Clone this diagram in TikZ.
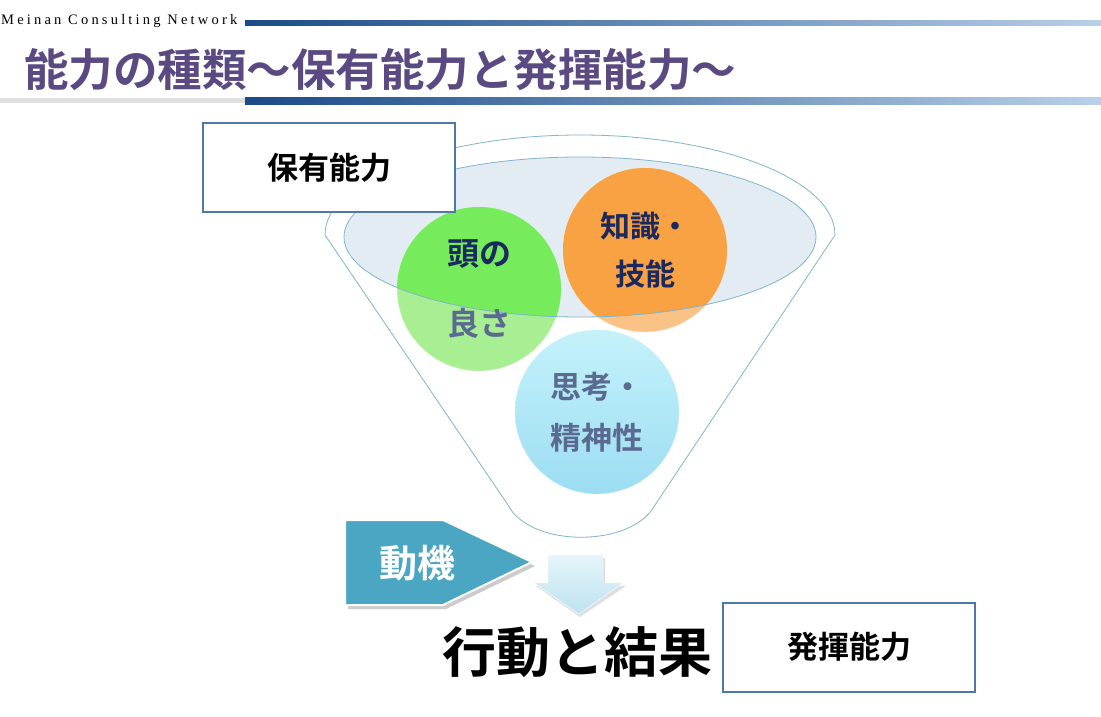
\documentclass[tikz,border=0pt]{standalone}
\usepackage{fontspec}
\usepackage{xcolor}
\usetikzlibrary{shapes.geometric, arrows, positioning}
\newfontfamily\jp{Noto Sans CJK JP}[BoldFont={Noto Sans CJK JP Bold}]
\newfontfamily\brandfont{Liberation Serif}[LetterSpace=22]

\definecolor{titlepurple}{HTML}{5B4A82}
\definecolor{barblue}{HTML}{1B4A88}
\definecolor{barlight}{HTML}{B8D0E8}
\definecolor{boxedge}{HTML}{4F78A8}
\definecolor{funnelline}{HTML}{7FB5CC}
\definecolor{bowlfill}{HTML}{E2ECF2}
\definecolor{navytext}{HTML}{1A2A5E}
\definecolor{slatetext}{HTML}{5A6A90}
\definecolor{motiveblue}{HTML}{4AA6C2}
\definecolor{greenin}{HTML}{76EC5C}
\definecolor{greenout}{HTML}{A8EE92}
\definecolor{orangein}{HTML}{F8A243}
\definecolor{orangeout}{HTML}{FBC285}
\definecolor{cyantop}{HTML}{C4F2FA}
\definecolor{cyanbot}{HTML}{9CDDF2}
\definecolor{arrowtop}{HTML}{E6F5FA}
\definecolor{arrowbot}{HTML}{BCE2F0}

\begin{document}
\begin{tikzpicture}[x=1pt, y=-1pt]
        % Styles
        \tikzstyle{capbox} = [rectangle, draw=boxedge, line width=2pt, fill=white, minimum width=252pt, minimum height=89pt, inner sep=0pt, font=\jp\bfseries\fontsize{31}{31}\selectfont]
        \tikzstyle{ability} = [circle, minimum size=164pt, inner sep=0pt]
        \tikzstyle{abilitytext} = [align=center, inner sep=0pt, font=\jp\bfseries\fontsize{31}{50}\selectfont]
        \tikzstyle{bar} = [left color=barblue, right color=barlight]

        \useasboundingbox (0,0) rectangle (1101,717);
        \fill[white] (0,0) rectangle (1101,717);

        % Header
        \node[anchor=west, inner sep=0pt, font=\brandfont\fontsize{14.5}{14.5}\selectfont] (brand) at (1,21) {Meinan Consulting Network};
        \shade[bar] (245,21) rectangle (1101,26);
        \node[anchor=west, inner sep=0pt, text=titlepurple, font=\jp\bfseries\fontsize{44.5}{44.5}\selectfont] (title) at (24,70) {能力の種類〜保有能力と発揮能力〜};
        \fill[gray!25] (0,98) rectangle (245,103);
        \shade[bar] (245,98) rectangle (1101,104);

        % Funnel
        \draw[funnelline, line width=0.8pt] (835,235) arc[start angle=0, end angle=-180, x radius=255, y radius=100]
            -- (508,505) .. controls (530,548) and (632,548) .. (655,505) -- cycle;
        \fill[bowlfill] (580,237) ellipse[x radius=236, y radius=80];

        % Abilities
        \node[ability, fill=greenout, draw=white!60!greenout] (head) at (479,289) {};
        \node[ability, fill=orangeout, draw=white!60!orangeout] (skill) at (645,250) {};
        \node[ability, top color=cyantop, bottom color=cyanbot, draw=white!60!cyanbot] (mind) at (597,412) {};
        \begin{scope}
            \clip (580,237) ellipse[x radius=236, y radius=80];
            \fill[greenin] (head) circle[radius=82];
            \fill[orangein] (skill) circle[radius=82];
        \end{scope}
        \draw[funnelline, line width=0.8pt] (580,237) ellipse[x radius=236, y radius=80];

        \node[abilitytext, font=\jp\bfseries\fontsize{32}{70}\selectfont] (headtext) at (head) {\color{navytext}頭の\\ \color{slatetext}良さ};
        \node[abilitytext, font=\jp\bfseries\fontsize{30}{48}\selectfont, text=navytext] (skilltext) at (skill) {知識・\\技能};
        \node[abilitytext, font=\jp\bfseries\fontsize{31}{51}\selectfont, text=slatetext] (mindtext) at (mind) {思考・\\精神性};

        % Labels
        \node[capbox] (holding) at (329,167.5) {保有能力};
        \node[capbox] (exerted) at (849,647) {発揮能力};

        % Motive and result
        \fill[gray!40] (348,524) -- (446,524) -- (535,566) -- (446,609) -- (348,609) -- cycle;
        \draw[white, line width=2pt, fill=motiveblue] (345,520) -- (443,520) -- (532,562) -- (443,605) -- (345,605) -- cycle;
        \node[text=white, font=\jp\bfseries\fontsize{38}{38}\selectfont] (motive) at (417,563) {動機};
        \fill[gray!25] (550,558) -- (605,558) -- (605,586) -- (626,586) -- (580,617) -- (536,586) -- (550,586) -- cycle;
        \shade[top color=arrowtop, bottom color=arrowbot, draw=white] (548,555) -- (603,555) -- (603,583) -- (623,583) -- (579,614) -- (534,583) -- (548,583) -- cycle;
        \node[font=\jp\bfseries\fontsize{54}{54}\selectfont] (result) at (577,652) {行動と結果};
    \end{tikzpicture}
\end{document}
